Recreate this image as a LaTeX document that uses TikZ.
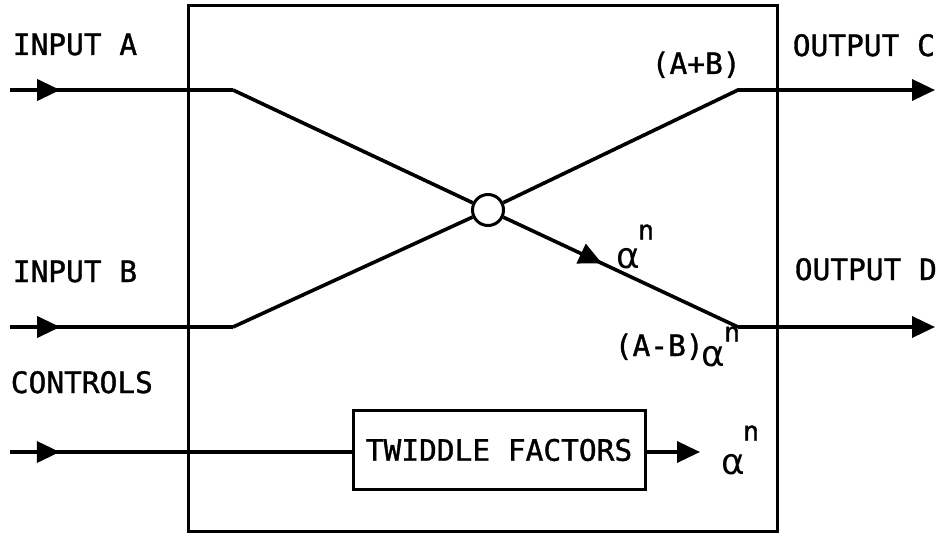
\documentclass[tikz,border=0pt]{standalone}
\usepackage{fontspec}
\setmainfont[FakeBold=1.2]{DejaVu Sans Mono}
\newfontfamily\alffont{DejaVu Sans}
\usetikzlibrary{arrows.meta,decorations.markings}
\begin{document}
\begin{tikzpicture}[x=1pt,y=-1pt,line width=3.6pt,
  font=\fontsize{29.5}{32}\selectfont,
  tri/.tip={Triangle[length=23pt,width=21pt]},
  tipend/.style={-tri},
  midarrow/.style={postaction={decorate},decoration={markings,mark=at position #1 with {\arrow{tri}}}},
  lbl/.style={inner sep=0pt,anchor=base west},
  alf/.style={inner sep=0pt,font=\alffont\fontsize{36}{40}\selectfont},
  sup/.style={inner sep=0pt,font=\fontsize{27}{30}\selectfont}]
\useasboundingbox (0,0) rectangle (936,535);
% main box
\node[draw,line width=3pt,minimum width=589pt,minimum height=526pt,inner sep=0pt] (box) at (482.5,268.5) {};
% crossing
\node[draw,circle,line width=3pt,minimum size=31pt,inner sep=0pt] (x) at (488,210) {};
\coordinate (ia) at (10,90);
\coordinate (ka) at (233,90);
\coordinate (kc) at (738,90);
\coordinate (oc) at (935,90);
\coordinate (ib) at (10,327);
\coordinate (kb) at (233,327);
\coordinate (kd) at (738,327);
\coordinate (od) at (935,327);
\draw[midarrow=0.225] (ia) -- (ka);
\draw (ka) -- (x);
\draw[midarrow=0.225] (ib) -- (kb);
\draw (kb) -- (x);
\draw[tipend] (x) -- (kc) -- (oc);
\draw[midarrow=0.42] (x) -- (kd);
\draw[tipend] (kd) -- (od);
% twiddle
\node[draw,line width=3pt,minimum width=292pt,minimum height=79pt,inner sep=0pt] (tw) at (499,450) {TWIDDLE FACTORS};
\coordinate (ic) at (10,452);
\coordinate (ta) at (700,452);
\draw[midarrow=0.146] (ic) -- (ic -| tw.west);
\draw[tipend] (tw.east |- ta) -- (ta);
% labels
\node[lbl] (la) at (11,55) {INPUT A};
\node[lbl] (lb) at (11,282) {INPUT B};
\node[lbl] (lc) at (9,393) {CONTROLS};
\node[lbl] (loc) at (791,56) {OUTPUT C};
\node[lbl] (lod) at (793,280) {OUTPUT D};
\node[lbl] (apb) at (650,74) {(A+B)};
\node[lbl] (amb) at (613,356) {(A-B)};
\node[alf] (al1) at (628,259) {α};
\node[sup] (n1) at (646,232) {n};
\node[alf] (al2) at (713,357) {α};
\node[sup] (n2) at (732,334) {n};
\node[alf] (al3) at (733,465) {α};
\node[sup] (n3) at (751,433) {n};
\end{tikzpicture}
\end{document}
